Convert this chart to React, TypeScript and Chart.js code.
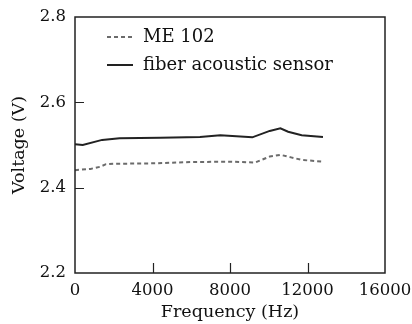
import React, { useEffect, useRef } from "react";
import { Chart, registerables } from "chart.js";

Chart.register(...registerables);

const FONT = "'DejaVu Serif', serif";

const fiberFreq = [0, 400, 1400, 2300, 4400, 6450, 7500, 9150, 10050, 10600, 11000, 11700, 12800];
const fiberVolt = [2.502, 2.5, 2.512, 2.516, 2.517, 2.519, 2.523, 2.518, 2.533, 2.539, 2.531, 2.523, 2.519];

const meFreq = [0, 800, 1300, 1600, 2000, 4000, 6000, 8000, 9300, 10050, 10600, 11150, 11700, 12800];
const meVolt = [2.441, 2.444, 2.449, 2.455, 2.456, 2.457, 2.46, 2.461, 2.459, 2.473, 2.477, 2.471, 2.465, 2.461];

const legendLabels = ["ME 102", "fiber acoustic sensor"];
const xTicks = [0, 4000, 8000, 12000, 16000];
const yTicks = [2.2, 2.4, 2.6, 2.8];

const ME_COLOR = "#6b6b6b";
const FIBER_COLOR = "#222222";
const ME_DASH = [4, 3];

const frame = {
  id: "frame",
  afterDatasetsDraw(chart: any) {
    const { ctx, chartArea: a, scales } = chart;
    ctx.save();
    ctx.strokeStyle = "#222";
    ctx.lineWidth = 1.5;
    ctx.strokeRect(a.left, a.top, a.right - a.left, a.bottom - a.top);
    ctx.lineWidth = 1.2;
    ctx.beginPath();
    xTicks.slice(1, -1).forEach((v) => {
      const px = Math.round(scales.x.getPixelForValue(v)) + 0.5;
      ctx.moveTo(px, a.bottom);
      ctx.lineTo(px, a.bottom - 10);
    });
    yTicks.slice(1, -1).forEach((v) => {
      const py = Math.round(scales.y.getPixelForValue(v)) + 0.5;
      ctx.moveTo(a.left, py);
      ctx.lineTo(a.left + 9, py);
    });
    ctx.stroke();

    // legend
    const rows = [
      { label: legendLabels[0], color: ME_COLOR, dash: ME_DASH },
      { label: legendLabels[1], color: FIBER_COLOR, dash: [] as number[] },
    ];
    ctx.font = "18px " + FONT;
    ctx.textBaseline = "middle";
    ctx.textAlign = "left";
    rows.forEach((r, i) => {
      const y = a.top + 20 + i * 28;
      const x0 = a.left + 32;
      ctx.beginPath();
      ctx.setLineDash(r.dash);
      ctx.strokeStyle = r.color;
      ctx.lineWidth = 2;
      ctx.moveTo(x0, y);
      ctx.lineTo(x0 + 26, y);
      ctx.stroke();
      ctx.setLineDash([]);
      ctx.fillStyle = "#111";
      ctx.fillText(r.label, x0 + 36, y);
    });
    ctx.restore();
  },
};

export default function App() {
  const ref = useRef<HTMLCanvasElement>(null);
  useEffect(() => {
    if (!ref.current) return;
    const chart = new Chart(ref.current, {
      type: "line",
      data: {
        datasets: [
          {
            label: legendLabels[0],
            data: meFreq.map((x, i) => ({ x, y: meVolt[i] })),
            borderColor: ME_COLOR,
            borderWidth: 2,
            borderDash: ME_DASH,
            pointRadius: 0,
            tension: 0,
          },
          {
            label: legendLabels[1],
            data: fiberFreq.map((x, i) => ({ x, y: fiberVolt[i] })),
            borderColor: FIBER_COLOR,
            borderWidth: 2,
            pointRadius: 0,
            tension: 0,
          },
        ],
      },
      options: {
        responsive: false,
        animation: false,
        layout: { padding: { top: 17, right: 27, left: 0, bottom: 0 } },
        plugins: { legend: { display: false }, tooltip: { enabled: false } },
        scales: {
          x: {
            type: "linear",
            min: 0,
            max: 16000,
            afterBuildTicks: (s: any) => {
              s.ticks = xTicks.map((v) => ({ value: v }));
            },
            afterFit: (s: any) => {
              s.height = 51;
              s.paddingLeft = 0;
              s.paddingRight = 0;
            },
            grid: { display: false, drawTicks: false },
            border: { display: false },
            ticks: {
              color: "#111",
              font: { family: FONT, size: 16.5 },
              padding: 8,
              maxRotation: 0,
              autoSkip: false,
              callback: (v: any) => String(v),
            },
            title: {
              display: true,
              text: "Frequency (Hz)",
              color: "#111",
              font: { family: FONT, size: 17.5 },
              padding: { top: 0, bottom: 1 },
            },
          },
          y: {
            type: "linear",
            min: 2.2,
            max: 2.8,
            afterBuildTicks: (s: any) => {
              s.ticks = yTicks.map((v) => ({ value: v }));
            },
            afterFit: (s: any) => {
              s.width = 75;
              s.paddingTop = 0;
              s.paddingBottom = 0;
            },
            grid: { display: false, drawTicks: false },
            border: { display: false },
            ticks: {
              color: "#111",
              font: { family: FONT, size: 16.5 },
              padding: 9,
              autoSkip: false,
              callback: (v: any) => Number(v).toFixed(1),
            },
            title: {
              display: true,
              text: "Voltage (V)",
              color: "#111",
              font: { family: FONT, size: 17.5 },
              padding: { top: 9, bottom: 0 },
            },
          },
        },
      },
      plugins: [frame],
    });
    return () => chart.destroy();
  }, []);
  return (
    <div style={{ position: "fixed", left: 0, top: 0, width: 412, height: 324, background: "#fff" }}>
      <canvas ref={ref} width={412} height={324} />
    </div>
  );
}
